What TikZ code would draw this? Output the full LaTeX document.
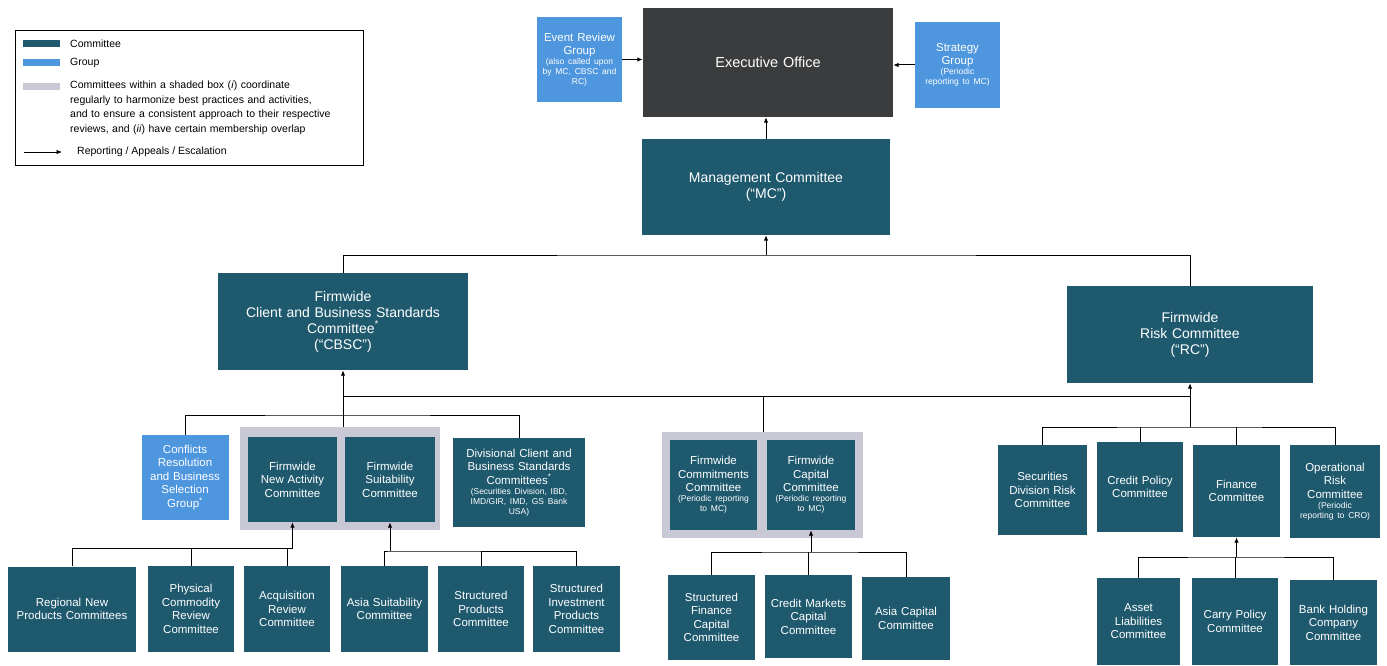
\documentclass[tikz,border=0pt]{standalone}
\usepackage{fontspec}
\setmainfont{Liberation Sans}
\usetikzlibrary{arrows.meta}
\definecolor{commc}{RGB}{30,89,110}
\definecolor{grpc}{RGB}{78,150,222}
\definecolor{shadec}{RGB}{200,201,213}
\definecolor{execc}{RGB}{58,60,62}
\newcommand\subt{\fontsize{8.5}{10}\selectfont}
\newcommand\bigf{\fontsize{14}{16}\selectfont}
\begin{document}
\begin{tikzpicture}[x=1pt,y=-1pt,
 box/.style={rectangle, inner sep=1pt, align=center, text=white, text width=80pt, font=\fontsize{11.5}{13.5}\selectfont},
 comm/.style={box, fill=commc},
 grp/.style={box, fill=grpc},
 bigbox/.style={comm, text width=236pt, font=\bigf},
 shadebox/.style={rectangle, fill=shadec, inner sep=0pt},
 sz/.style 2 args={minimum width=#1pt, minimum height=#2pt},
 conn/.style={draw=black, line width=1pt},
 arr/.style={conn, -{Latex[length=5.5pt,width=4.5pt]}},
 legtext/.style={text=black, anchor=west, inner sep=0pt, font=\fontsize{10.5}{14.5}\selectfont},
 swatch/.style={rectangle, inner sep=0pt, sz={37}{7}},
]
\fill[white] (0,0) rectangle (1387,666);
\useasboundingbox (0,0) rectangle (1387,666);

% ---------- legend ----------
\node[draw=black, line width=0.8pt, sz={348}{135}, inner sep=0pt] (legend) at (189,97.5) {};
\node[swatch, fill=commc] (lcomm) at (41.5,44) {};
\node[legtext] (tcomm) at (70,44) {Committee};
\node[swatch, fill=grpc] (lgrp) at (41.5,63) {};
\node[legtext] (tgrp) at (70,63) {Group};
\node[swatch, fill=shadec] (lshade) at (41.5,87) {};
\node[legtext, anchor=north west, text width=292pt, align=left] (tshade) at (70,81)
 {Committees within a shaded box (\textit{i}) coordinate\\regularly to harmonize best practices and activities,\\and to ensure a consistent approach to their respective\\reviews, and (\textit{ii}) have certain membership overlap};
\coordinate (la) at (24,152);
\coordinate (lb) at (62,152);
\draw[arr, line width=0.8pt] (la) -- (lb);
\node[legtext] (tarr) at (77,152) {Reporting / Appeals / Escalation};

% ---------- shaded group boxes ----------
\node[shadebox, sz={200}{103}] (shadeL) at (340,478.5) {};
\node[shadebox, sz={201}{106}] (shadeM) at (762.5,485) {};

% ---------- top ----------
\node[box, fill=execc, sz={250}{109}, text width=236pt, font=\fontsize{14.5}{17}\selectfont] (exec) at (768,62.5) {Executive Office};
\node[grp, sz={85}{85}] (erg) at (579.5,59.5) {Event Review\\Group\par{\subt (also called upon\\by MC, CBSC and\\RC)\par}};
\node[grp, sz={85}{86}] (strat) at (957.5,65) {Strategy\\Group\par{\subt (Periodic\\reporting to MC)\par}};
\node[bigbox, sz={248}{96}] (mc) at (766,187) {Management Committee\\(“MC”)};

\node[bigbox, sz={250}{97}] (cbsc) at (343,321.5) {Firmwide\\Client and Business Standards\\Committee\textsuperscript{*}\\(“CBSC”)};
\node[bigbox, sz={246}{97}] (rc) at (1190,334.5) {Firmwide\\Risk Committee\\(“RC”)};

% ---------- second level ----------
\node[grp, sz={87}{85}] (conf) at (185,477.5) {Conflicts\\Resolution\\and Business\\Selection\\Group\textsuperscript{*}};
\node[comm, sz={89}{85}] (fnac) at (292.5,479.5) {Firmwide\\New Activity\\Committee};
\node[comm, sz={90}{85}] (fsc) at (390,479.5) {Firmwide\\Suitability\\Committee};
\node[comm, sz={132}{89}, text width=126pt] (div) at (519,482.5) {Divisional Client and\\Business Standards\\Committees\textsuperscript{*}\par{\subt (Securities Division, IBD,\\IMD/GIR, IMD, GS Bank\\USA)\par}};

\node[comm, sz={87}{90}] (fcc) at (713.5,485) {Firmwide\\Commitments\\Committee\par{\subt (Periodic reporting\\to MC)\par}};
\node[comm, sz={88}{90}] (fcap) at (811,485) {Firmwide\\Capital\\Committee\par{\subt (Periodic reporting\\to MC)\par}};

\node[comm, sz={89}{90}] (sdrc) at (1042.5,490) {Securities\\Division Risk\\Committee};
\node[comm, sz={86}{90}] (cpc) at (1140,487) {Credit Policy\\Committee};
\node[comm, sz={87}{92}] (finc) at (1236.5,491) {Finance\\Committee};
\node[comm, sz={90}{93}] (orc) at (1335,491.5) {Operational\\Risk\\Committee\par{\subt (Periodic\\reporting to CRO)\par}};

% ---------- bottom level ----------
\node[comm, sz={128}{85}, text width=124pt] (rnp) at (72,609) {Regional New\\Products Committees};
\node[comm, sz={86}{86}] (pcr) at (191,609) {Physical\\Commodity\\Review\\Committee};
\node[comm, sz={86}{86}] (arc) at (287,609) {Acquisition\\Review\\Committee};
\node[comm, sz={87}{86}] (asc) at (384.5,609) {Asia Suitability\\Committee};
\node[comm, sz={86}{86}] (spc) at (481,609) {Structured\\Products\\Committee};
\node[comm, sz={87}{86}] (sipc) at (576.5,609) {Structured\\Investment\\Products\\Committee};

\node[comm, sz={87}{85}] (sfcc) at (711.5,617.5) {Structured\\Finance\\Capital\\Committee};
\node[comm, sz={87}{83}] (cmcc) at (808.5,616.5) {Credit Markets\\Capital\\Committee};
\node[comm, sz={88}{83}] (acc) at (906,618.5) {Asia Capital\\Committee};

\node[comm, sz={83}{87}] (alc) at (1138.5,621.5) {Asset\\Liabilities\\Committee};
\node[comm, sz={86}{87}] (cpoc) at (1235,621.5) {Carry Policy\\Committee};
\node[comm, sz={87}{85}] (bhcc) at (1333.5,622.5) {Bank Holding\\Company\\Committee};

% ---------- connectors ----------
\draw[arr] (erg.east) -- (erg.east -| exec.west);
\draw[arr] (strat.west) -- (strat.west -| exec.east);
\draw[arr] (mc.north) -- (mc.north |- exec.south);

\coordinate (jt) at (766,255);
\draw[conn] (cbsc.north) |- (jt) -| (rc.north);
\draw[arr] (jt) -- (mc.south);

\coordinate (jm) at (763,396);
\draw[conn] (cbsc.south |- jm) -- (rc.south |- jm);
\draw[conn] (jm) -- (jm |- shadeM.north);
\draw[arr] (cbsc.south |- shadeL.north) -- (cbsc.south);

\coordinate (jl) at (343,415);
\draw[conn] (conf.north) |- (jl) -| (div.north);

\coordinate (jr) at (1190,427);
\draw[arr] (jr) -- (rc.south);
\draw[conn] (sdrc.north) |- (jr) -| (orc.north);
\draw[conn] (cpc.north) -- (cpc.north |- jr);
\draw[conn] (finc.north) -- (finc.north |- jr);

\coordinate (jb1) at (292.5,548);
\draw[arr] (jb1) -- (fnac.south);
\draw[conn] (rnp.north) |- (jb1);
\draw[conn] (pcr.north) -- (pcr.north |- jb1);
\draw[conn] (arc.north) -- (arc.north |- jb1);

\coordinate (jb2) at (390,551);
\draw[arr] (jb2) -- (fsc.south);
\draw[conn] (asc.north) |- (jb2) -| (sipc.north);
\draw[conn] (spc.north) -- (spc.north |- jb2);

\coordinate (jb3) at (811,552);
\draw[arr] (jb3) -- (fcap.south);
\draw[conn] (sfcc.north) |- (jb3) -| (acc.north);
\draw[conn] (cmcc.north) -- (cmcc.north |- jb3);

\coordinate (jb4) at (1236.5,557);
\draw[arr] (jb4) -- (finc.south);
\draw[conn] (alc.north) |- (jb4) -| (bhcc.north);
\draw[conn] (cpoc.north) -- (cpoc.north |- jb4);
\end{tikzpicture}
\end{document}
